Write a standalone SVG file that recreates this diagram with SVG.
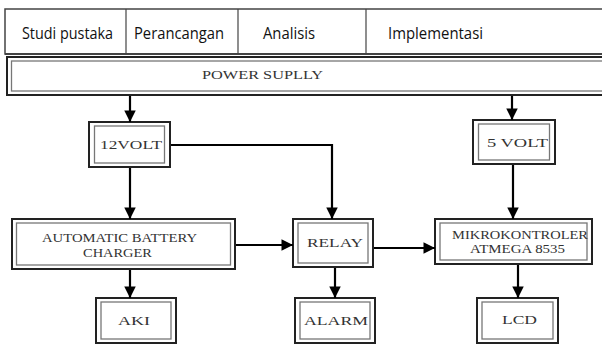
<svg xmlns="http://www.w3.org/2000/svg" width="602" height="344" viewBox="0 0 602 344">
<style>
.o{fill:#fff;stroke:#222;stroke-width:2}
.i{fill:none;stroke:#777;stroke-width:1.3}
.t{font-family:"Liberation Serif","Times New Roman",serif;font-size:13px;fill:#333;text-anchor:middle;dominant-baseline:central}
.s{font-size:11.5px}
.h{font-family:"Open Sans","Noto Sans",sans-serif;font-size:16px;fill:#111;text-anchor:middle;dominant-baseline:central}
.c{fill:none;stroke:#000;stroke-width:2.2}
</style>
<defs>
<marker id="ah" viewBox="0 0 14 17" refX="14" refY="7" markerWidth="17" markerHeight="14" markerUnits="userSpaceOnUse" orient="auto">
<path d="M0,0 L14,7 L0,14 Z" fill="#000"/>
</marker>
</defs>
<rect width="602" height="344" fill="#fff"/>
<g id="header">
<rect x="5" y="9" width="600" height="45" fill="#fff" stroke="#444" stroke-width="1.5"/>
<line x1="5" y1="54" x2="602" y2="54" stroke="#444" stroke-width="2"/>
<line x1="126" y1="9" x2="126" y2="54" stroke="#444" stroke-width="1.2"/>
<line x1="238" y1="9" x2="238" y2="54" stroke="#444" stroke-width="1.2"/>
<line x1="366" y1="9" x2="366" y2="54" stroke="#444" stroke-width="1.2"/>
<text class="h" x="67.5" y="33" textLength="91" lengthAdjust="spacingAndGlyphs">Studi pustaka</text>
<text class="h" x="179" y="33" textLength="90" lengthAdjust="spacingAndGlyphs">Perancangan</text>
<text class="h" x="289" y="33" textLength="52" lengthAdjust="spacingAndGlyphs">Analisis</text>
<text class="h" x="435.5" y="33" textLength="95" lengthAdjust="spacingAndGlyphs">Implementasi</text>
</g>
<g id="power-supply">
<rect class="o" x="7" y="57" width="600" height="38"/>
<rect class="i" x="11.5" y="61" width="600" height="30"/>
<text class="t" x="262.5" y="74" font-size="13.5" textLength="121" lengthAdjust="spacingAndGlyphs">POWER SUPLLY</text>
</g>
<g id="v12">
<rect class="o" x="89" y="122" width="81" height="45"/>
<rect class="i" x="94.5" y="126" width="70" height="37"/>
<text class="t" x="131" y="144" textLength="62" lengthAdjust="spacingAndGlyphs">12VOLT</text>
</g>
<g id="v5">
<rect class="o" x="473" y="120" width="82" height="44"/>
<rect class="i" x="478.5" y="124" width="71" height="36"/>
<text class="t" x="517.5" y="142" textLength="61" lengthAdjust="spacingAndGlyphs">5 VOLT</text>
</g>
<g id="charger">
<rect class="o" x="12" y="219" width="223" height="50"/>
<rect class="i" x="16.5" y="223" width="214" height="42"/>
<text class="t" x="119.5" y="237" textLength="155" lengthAdjust="spacingAndGlyphs">AUTOMATIC BATTERY</text>
<text class="t" x="117.5" y="252" textLength="69" lengthAdjust="spacingAndGlyphs">CHARGER</text>
</g>
<g id="relay">
<rect class="o" x="293" y="219" width="80" height="48"/>
<rect class="i" x="298" y="223" width="70" height="40"/>
<text class="t" x="335" y="242" textLength="56" lengthAdjust="spacingAndGlyphs">RELAY</text>
</g>
<g id="mikro">
<rect class="o" x="435" y="219" width="157" height="45"/>
<rect class="i" x="440" y="223" width="147" height="37"/>
<text class="t s" x="520" y="234.5" textLength="136" lengthAdjust="spacingAndGlyphs">MIKROKONTROLER</text>
<text class="t s" x="517.5" y="248.5" textLength="95" lengthAdjust="spacingAndGlyphs">ATMEGA 8535</text>
</g>
<g id="aki">
<rect class="o" x="96" y="298" width="80" height="45"/>
<rect class="i" x="101" y="302" width="70" height="37"/>
<text class="t" x="134" y="320" textLength="32" lengthAdjust="spacingAndGlyphs">AKI</text>
</g>
<g id="alarm">
<rect class="o" x="295" y="298" width="80" height="45"/>
<rect class="i" x="300" y="302" width="70" height="37"/>
<text class="t" x="336" y="320" textLength="64" lengthAdjust="spacingAndGlyphs">ALARM</text>
</g>
<g id="lcd">
<rect class="o" x="477" y="298" width="81" height="45"/>
<rect class="i" x="482" y="302" width="71" height="37"/>
<text class="t" x="519.5" y="319" textLength="35" lengthAdjust="spacingAndGlyphs">LCD</text>
</g>
<g id="connectors">
<path class="c" d="M130,96 V122" marker-end="url(#ah)"/>
<path class="c" d="M512,96 V120" marker-end="url(#ah)"/>
<path class="c" d="M130,168 V219" marker-end="url(#ah)"/>
<path class="c" d="M171,145 H332 V219" marker-end="url(#ah)"/>
<path class="c" d="M513,165 V219" marker-end="url(#ah)"/>
<path class="c" d="M130,270 V298" marker-end="url(#ah)"/>
<path class="c" d="M236,245 H293" marker-end="url(#ah)"/>
<path class="c" d="M335,268 V298" marker-end="url(#ah)"/>
<path class="c" d="M374,248 H435" marker-end="url(#ah)"/>
<path class="c" d="M518,265 V298" marker-end="url(#ah)"/>
</g>
</svg>
